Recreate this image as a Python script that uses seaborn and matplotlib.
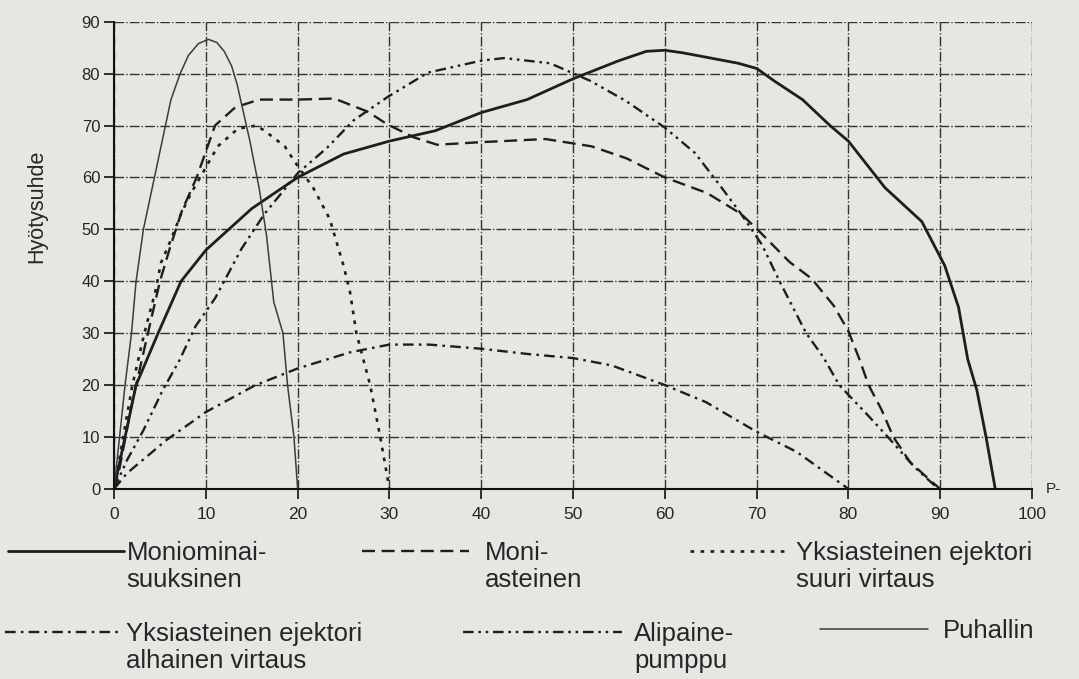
import matplotlib
matplotlib.use("Agg")
import matplotlib.pyplot as plt
import seaborn as sns

# Pressure axis (P-) readings and efficiency (Hyötysuhde) for each machine type
moniomin_x = [0, 1.2, 2.4, 4.8, 7.3, 10, 15, 20, 25, 30, 35, 40, 45, 50, 55, 58, 60, 62, 65, 68, 70, 72, 75, 78, 80, 84, 88, 90.5, 92, 93, 94, 95, 96]
moniomin_y = [0, 10, 20, 30, 40, 46, 54, 60, 64.5, 67, 69, 72.5, 75, 79, 82.5, 84.3, 84.5, 84, 83, 82, 81, 78.5, 75, 70, 67, 58, 51.5, 43, 35, 25, 19, 10, 0]

moniaste_x = [0, 0.6, 1.9, 3.3, 5, 6.1, 7.4, 9, 11, 13.2, 15.8, 20, 24, 27.6, 29.8, 32.7, 35.2, 40, 47, 52, 55.8, 60, 64.6, 68.3, 70.3, 73.6, 76, 78.4, 80, 81.2, 82.2, 83.6, 84.9, 86.7, 89, 90]
moniaste_y = [0, 4, 16, 27, 40, 46.5, 53.6, 60, 70, 73.5, 75, 75, 75.2, 72.7, 70.2, 67.7, 66.3, 66.8, 67.4, 66, 63.7, 60, 57, 53, 49.6, 43.7, 40.5, 35.3, 30.4, 25, 20, 15.3, 10, 5.2, 1.5, 0]

suuri_x = [0, 1, 2, 3.3, 4.5, 5.1, 6.2, 7.3, 8.4, 9.7, 11.3, 13.5, 15.5, 16.4, 17.5, 18.6, 19.7, 21.7, 23.5, 25, 25.7, 26.4, 27.9, 29, 30]
suuri_y = [0, 10, 20, 30, 38, 43.5, 48, 53, 57, 61, 66, 69.4, 70, 69, 67.5, 66, 63, 58, 52, 43, 38, 30, 20, 10, 0]

alhainen_x = [0, 1.4, 5.7, 10, 15.3, 20, 25.7, 30, 34.3, 40, 45, 50, 54.2, 60, 64.5, 70, 74.4, 80]
alhainen_y = [0, 3, 9.4, 14.8, 19.9, 23.2, 26.3, 27.8, 27.8, 27, 26, 25.2, 23.8, 20, 16.7, 11, 7.1, 0]

alipaine_x = [0, 1.4, 3.2, 5.3, 7.1, 8.9, 11, 13.9, 16.4, 20, 23.2, 26.1, 29.8, 34.2, 40, 42.5, 47.5, 51.9, 55.8, 60, 63.3, 66.2, 68.3, 70.6, 72.5, 75.4, 77.3, 79, 81.9, 84.3, 87.2, 89.8]
alipaine_y = [0, 5.5, 11.3, 19, 24.7, 31.4, 36.7, 46.3, 53, 60.8, 65.7, 71, 75.5, 80.2, 82.5, 83, 82, 78.6, 74.7, 69.6, 64.7, 58, 53, 47, 40, 30, 25.3, 20, 14.6, 10, 4.2, 0]

puhallin_x = [0, 0.6, 1.2, 1.9, 2.4, 3.2, 4.4, 5.6, 6.2, 7.2, 8.1, 9.2, 10.3, 11.2, 12, 12.8, 13.4, 14.8, 15.8, 16.6, 17.4, 18.4, 18.9, 19.6, 20]
puhallin_y = [0, 10, 20, 30, 40, 50, 60, 70, 75, 80, 83.5, 85.8, 86.6, 86, 84.3, 81.5, 78, 67, 58, 49, 36, 30, 20, 10, 0]

labels_first = ["Moniominai-", "Moni-", "Yksiasteinen ejektori", "Yksiasteinen ejektori", "Alipaine-", "Puhallin"]
labels_second = ["suuksinen", "asteinen", "suuri virtaus", "alhainen virtaus", "pumppu", None]

sns.set_style("ticks")
plt.rcParams["font.family"] = ["Liberation Sans", "DejaVu Sans"]

paper = "#e6e6e3"
ink = "#1e1e1e"

fig = plt.figure(figsize=(10.79, 6.79), dpi=100, facecolor=paper)
ax = fig.add_axes([0.1057, 0.28, 0.8507, 0.688])
ax.set_facecolor(paper)

series = [
    (moniomin_x, moniomin_y, dict(color=ink, linewidth=2.0, linestyle="-")),
    (moniaste_x, moniaste_y, dict(color=ink, linewidth=1.7, linestyle=(0, (5.5, 2.8)))),
    (suuri_x, suuri_y, dict(color=ink, linewidth=1.9, linestyle=(0, (1.4, 2.4)))),
    (alhainen_x, alhainen_y, dict(color=ink, linewidth=1.7, linestyle=(0, (4.5, 2.2, 1.1, 2.2)))),
    (alipaine_x, alipaine_y, dict(color=ink, linewidth=1.7, linestyle=(0, (4.5, 2.0, 1.1, 2.0, 1.1, 2.0)))),
    (puhallin_x, puhallin_y, dict(color="#3c3c3c", linewidth=1.1, linestyle="-")),
]

handles = []
for xs, ys, style in series:
    sns.lineplot(x=xs, y=ys, ax=ax, estimator=None, sort=False, legend=False,
                 solid_joinstyle="round", dash_joinstyle="round", **style)
    handles.append(ax.lines[-1])

# axes, grid, ticks
ax.set_xlim(0, 100)
ax.set_ylim(0, 90)
ax.set_xticks(range(0, 101, 10))
ax.set_yticks(range(0, 91, 10))
ax.grid(True, color="#333333", linestyle=(0, (7, 1.5, 1, 1.5)), linewidth=1.0)
ax.set_axisbelow(True)
for side in ["top", "right"]:
    ax.spines[side].set_visible(False)
for side in ["left", "bottom"]:
    ax.spines[side].set_color("#111111")
    ax.spines[side].set_linewidth(1.5)
ax.tick_params(axis="both", direction="out", length=7, width=1.2, color="#111111")
ax.tick_params(axis="y", labelsize=12, pad=3)
ax.tick_params(axis="x", labelsize=12.5, pad=6)
ax.set_ylabel("Hyötysuhde", fontsize=15.5)
ax.yaxis.set_label_coords(-0.073, 0.605)
ax.set_xlabel("")
ax.text(1.015, 0, "P-", transform=ax.get_yaxis_transform(), fontsize=11, va="center", ha="left")

# legend: one block per series, handle on first text line
blank = plt.Line2D([], [], linestyle="none")
legend_spots = [
    (0.0074, 0.203, 4.5, 0.12),
    (0.3355, 0.203, 4.15, 0.65),
    (0.6395, 0.203, 3.85, 0.27),
    (0.0046, 0.084, 4.6, 0.12),
    (0.4291, 0.084, 6.2, 0.46),
    (0.7600, 0.088, 4.2, 0.58),
]
for h, first, second, (lx, ly, hl, tp) in zip(handles, labels_first, labels_second, legend_spots):
    hs = [h]
    ls = [first]
    if second:
        hs.append(blank)
        ls.append(second)
    fig.legend(hs, ls, loc="upper left", bbox_to_anchor=(lx, ly), frameon=False,
               fontsize=18.5, handlelength=hl, handletextpad=tp, borderpad=0,
               borderaxespad=0, labelspacing=0.12)

fig.savefig("out.png", dpi=100, facecolor=paper)
